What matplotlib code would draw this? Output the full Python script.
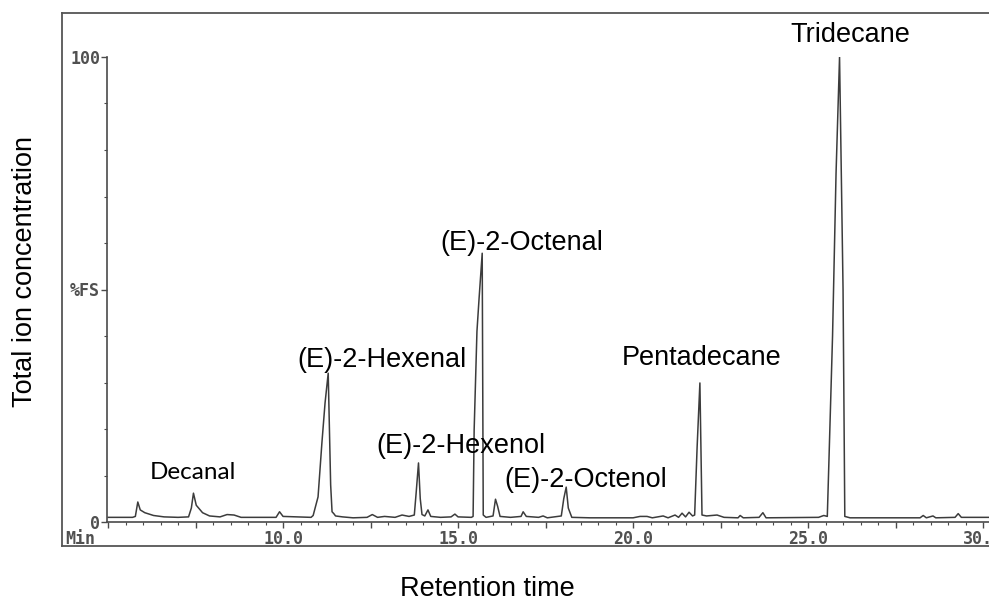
import matplotlib
matplotlib.use("Agg")
from matplotlib import pyplot as plt
from matplotlib.lines import Line2D
from matplotlib.ticker import MultipleLocator, FuncFormatter

# total ion chromatogram, retention time (min) vs %FS
rt = [5.0, 5.7, 5.78, 5.85, 5.92, 6.05, 6.3, 6.6, 7.0, 7.3, 7.38, 7.44, 7.52, 7.7, 7.9,
      8.2, 8.4, 8.6, 8.8, 9.8, 9.9, 10.0, 10.8, 10.86, 11.0, 11.11, 11.2, 11.29, 11.36,
      11.4, 11.45, 11.5, 11.7, 12.0, 12.4, 12.55, 12.7, 12.9, 13.2, 13.4, 13.6, 13.75,
      13.8, 13.87, 13.92, 13.97, 14.05, 14.14, 14.22, 14.5, 14.8, 14.91, 15.0, 15.38,
      15.43, 15.46, 15.54, 15.6, 15.69, 15.72, 15.8, 16.0, 16.07, 16.13, 16.2, 16.5,
      16.8, 16.86, 16.95, 17.3, 17.43, 17.55, 17.95, 18.02, 18.09, 18.15, 18.25, 18.77,
      19.0, 20.0, 20.2, 20.4, 20.55, 20.86, 21.0, 21.2, 21.3, 21.4, 21.5, 21.6, 21.7,
      21.76, 21.83, 21.91, 21.97, 22.1, 22.4, 22.6, 23.0, 23.06, 23.15, 23.6, 23.71,
      23.8, 25.3, 25.45, 25.55, 25.6, 25.7, 25.8, 25.9, 26.0, 26.05, 26.2, 28.2, 28.29,
      28.38, 28.57, 28.65, 29.2, 29.29, 29.38, 30.17]
tic = [1.0, 1.0, 1.2, 4.3, 2.6, 2.0, 1.4, 1.1, 1.0, 1.1, 3.0, 6.2, 3.6, 2.0, 1.3,
       1.1, 1.6, 1.5, 1.0, 1.0, 2.2, 1.2, 1.0, 1.4, 5.4, 17.0, 25.6, 32.0, 8.0,
       2.2, 1.8, 1.3, 1.1, 0.9, 1.0, 1.6, 1.0, 1.2, 1.0, 1.5, 1.2, 1.5,
       6.0, 12.7, 5.0, 1.6, 1.3, 2.6, 1.2, 1.0, 1.1, 1.7, 1.1, 1.0,
       1.2, 19.8, 41.0, 48.0, 57.8, 1.5, 1.0, 1.3, 4.9, 3.4, 1.2, 1.0,
       1.2, 2.2, 1.2, 1.0, 1.3, 0.9, 1.3, 5.0, 7.5, 3.0, 1.0, 0.9,
       0.9, 0.9, 1.2, 1.2, 0.9, 1.3, 0.9, 1.5, 1.0, 1.9, 1.1, 2.1, 1.3,
       1.5, 16.0, 29.9, 1.5, 1.3, 1.5, 1.0, 0.9, 1.4, 0.9, 1.0, 2.0,
       0.9, 1.0, 1.4, 1.2, 14.0, 40.0, 75.0, 100.0, 50.0, 1.2, 0.9, 0.9, 1.4,
       0.9, 1.3, 0.9, 1.0, 1.8, 1.0, 1.0]

# compound names and where their labels sit (rt, %FS baseline of text)
compounds = ["Decanal", "(E)-2-Hexenal", "(E)-2-Hexenol", "(E)-2-Octenal",
             "(E)-2-Octenol", "Pentadecane", "Tridecane"]
label_rt = [7.43, 12.83, 15.09, 16.83, 18.66, 21.97, 26.2]
label_y = [9.2, 33.3, 14.8, 58.5, 7.5, 33.8, 103.2]

W, H = 989, 603
fig = plt.figure(figsize=(W / 100, H / 100), dpi=100)


def fx(px):
    return px / W


def fy(py):
    return 1 - py / H


ink = "#3c3c3c"
mono = dict(family="DejaVu Sans Mono", size=12, weight="bold", color="#505050")

# instrument frame around the trace
for xs, ys in [((62, W + 5), (13, 13)), ((62, 62), (13, 546)), ((62, W + 5), (546, 546))]:
    fig.add_artist(Line2D([fx(x) for x in xs], [fy(y) for y in ys],
                          color="#555555", lw=1.3))

ax = fig.add_axes([fx(107), fy(522), fx(989) - fx(107), fy(57) - fy(522)])
ax.plot(rt, tic, color=ink, lw=1.1)
ax.set_xlim(4.97, 30.17)
ax.set_ylim(0, 100)

for s in ("top", "right"):
    ax.spines[s].set_visible(False)
for s in ("left", "bottom"):
    ax.spines[s].set_color("#4a4a4a")
    ax.spines[s].set_linewidth(1.2)

ax.set_yticks([0, 50, 100])
ax.set_yticklabels(["0", "%FS", "100"], fontdict=mono)
ax.yaxis.set_minor_locator(MultipleLocator(10))
ax.tick_params(axis="y", which="major", length=4, width=1, color="#4a4a4a", pad=1)
ax.tick_params(axis="y", which="minor", length=2, width=0.8, color="#4a4a4a")

ax.xaxis.set_major_locator(MultipleLocator(2.5))
ax.xaxis.set_minor_locator(MultipleLocator(0.5))
ax.xaxis.set_major_formatter(
    FuncFormatter(lambda v, p: f"{v:.1f}" if v >= 10 and v % 5 == 0 else ""))
ax.tick_params(axis="x", which="major", length=4, width=1, color="#4a4a4a", pad=2)
ax.tick_params(axis="x", which="minor", length=2, width=0.8, color="#4a4a4a")
for lab in ax.get_xticklabels():
    lab.set_fontfamily(mono["family"])
    lab.set_fontsize(mono["size"])
    lab.set_fontweight(mono["weight"])
    lab.set_color(mono["color"])

fig.text(fx(65), fy(539), "Min", ha="left", va="center", **mono)

for name, x, y in zip(compounds, label_rt, label_y):
    fam = "Lato" if name == "Decanal" else "Liberation Sans"
    size = 17.5 if name == "Decanal" else 19.5
    ax.text(x, y, name, ha="center", va="baseline", family=fam, size=size,
            color="black", clip_on=False)

fig.text(fx(25), fy(272), "Total ion concentration", rotation=90, ha="center",
         va="center", family="Liberation Sans", size=19.5)
fig.text(fx(487), fy(596), "Retention time", ha="center", va="baseline",
         family="Liberation Sans", size=19.5)

fig.savefig("out.png", dpi=100, facecolor="white")
